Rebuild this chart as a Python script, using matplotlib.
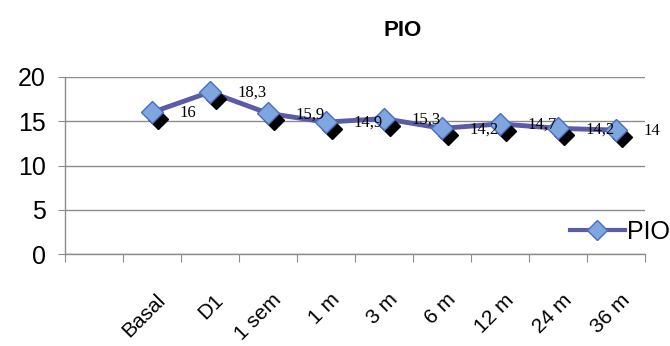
import matplotlib
matplotlib.use("Agg")
import matplotlib.pyplot as plt
import matplotlib.transforms as mtransforms
from matplotlib.lines import Line2D
import numpy as np

categories = ["Basal", "D1", "1 sem", "1 m", "3 m", "6 m", "12 m", "24 m", "36 m"]
values = [16, 18.3, 15.9, 14.9, 15.3, 14.2, 14.7, 14.2, 14]
value_labels = ["16", "18,3", "15,9", "14,9", "15,3", "14,2", "14,7", "14,2", "14"]
yticks = [0, 5, 10, 15, 20]
series_name = "PIO"

fig = plt.figure(figsize=(6.7, 3.46), dpi=100)
ax = fig.add_axes([65/670, 1-254/346, 580/670, (254-77)/346])

n_slots = len(categories) + 1
x = np.arange(1, n_slots) + 0.5

grid_c = "#8c8c8c"
line_c = "#5b5ba6"
fill_c = "#7fa6df"
edge_c = "#4a6cc0"

ax.set_xlim(0, n_slots)
ax.set_ylim(0, 20)
ax.set_yticks(yticks)
ax.yaxis.grid(True, color=grid_c, lw=1)
ax.set_axisbelow(True)
for s in ["top", "right"]:
    ax.spines[s].set_visible(False)
for s in ["left", "bottom"]:
    ax.spines[s].set_color(grid_c)
    ax.spines[s].set_linewidth(1)

ax.tick_params(axis="y", length=5, color=grid_c, pad=9, labelsize=18)
for t in ax.get_yticklabels():
    t.set_family("Liberation Sans")

ax.set_xticks(np.arange(0, n_slots + 1))
ax.set_xticklabels([])
ax.tick_params(axis="x", which="major", length=6, color=grid_c)
ax.set_xticks(x, minor=True)
ax.set_xticklabels(categories, minor=True, rotation=45, ha="right",
                   rotation_mode="anchor", fontsize=15, family="Liberation Sans")
ax.tick_params(axis="x", which="minor", length=0, pad=26)
off = mtransforms.ScaledTranslation(4/100, 0, fig.dpi_scale_trans)
for t in ax.get_xticklabels(minor=True):
    t.set_transform(t.get_transform() + off)

# line
ax.plot(x, values, color=line_c, lw=3.5, zorder=3, solid_joinstyle="round")
# shadow markers
sh = mtransforms.ScaledTranslation(6/100, -7/100, fig.dpi_scale_trans)
ax.plot(x, values, ls="none", marker="D", ms=10, color="black",
        transform=ax.transData + sh, zorder=4)
# markers
ax.plot(x, values, ls="none", marker="D", ms=11, mfc=fill_c, mec=edge_c,
        mew=1, zorder=5)

# data labels
lo = mtransforms.ScaledTranslation(27/100, -1/100, fig.dpi_scale_trans)
for xi, v, lab in zip(x, values, value_labels):
    ax.text(xi, v, lab, transform=ax.transData + lo, ha="left", va="center",
            fontsize=12, family="Liberation Serif", zorder=6, clip_on=False)

# legend
h = Line2D([], [], color=line_c, lw=3, marker="D", ms=10, mfc=fill_c, mec=edge_c)
fig.legend([h], [series_name], loc="center right", bbox_to_anchor=(1.0, 1-232/346),
           frameon=False, prop={"family": "Liberation Sans", "size": 18},
           handlelength=2.2, handletextpad=0.1, borderpad=0, borderaxespad=0)

fig.text(403/670, 1-31/346, "PIO", ha="center", va="center", fontsize=16,
         fontweight="bold", family="Liberation Sans")

fig.savefig("out.png", dpi=100)
